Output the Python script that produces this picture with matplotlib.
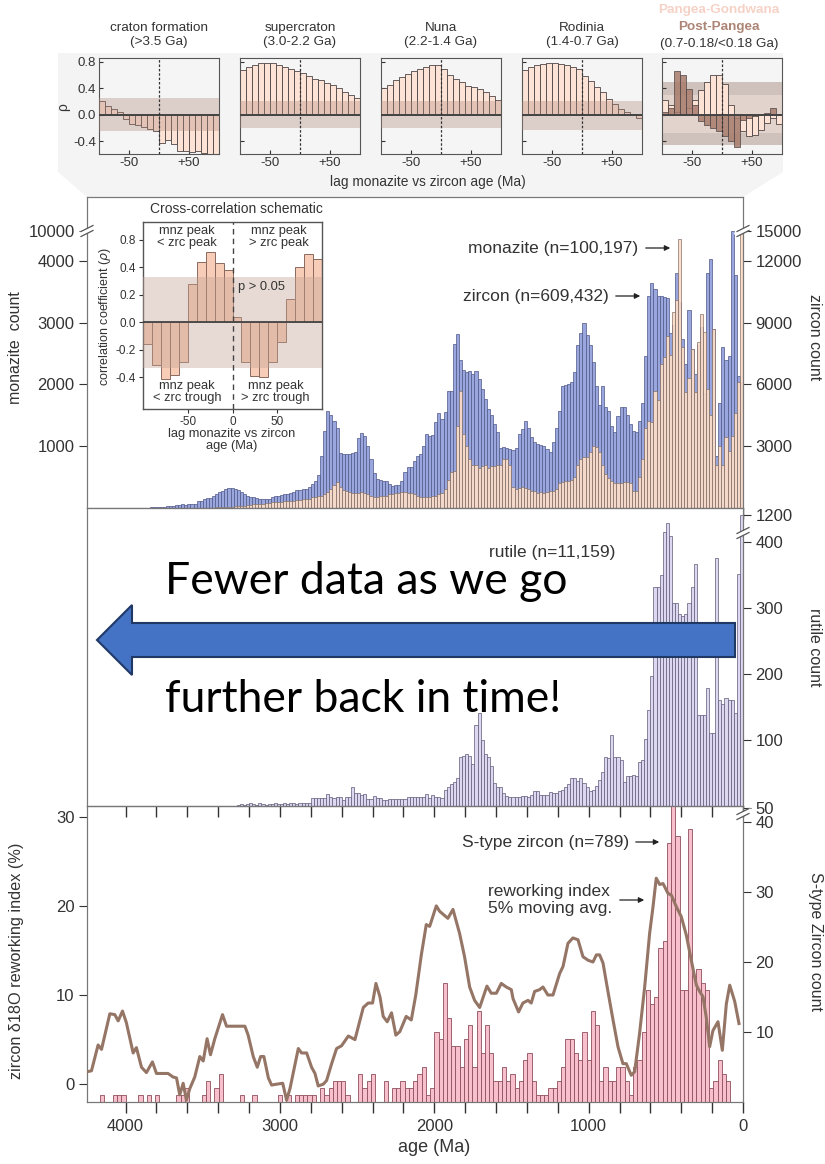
import numpy as np
import matplotlib.pyplot as plt
from matplotlib.patches import Polygon
from matplotlib.lines import Line2D

W, H = 825, 1164


def fx(px):
    return px / W


def fy(py):
    return 1 - py / H


plt.rcParams['font.family'] = ['Liberation Sans', 'DejaVu Sans']
plt.rcParams['axes.unicode_minus'] = False

# ---------------- data: lag cross-correlation panels ----------------
lag = np.arange(-95, 100, 10)
rho_craton = [0.21, 0.14, 0.09, 0.05, -0.06, -0.13, -0.15, -0.18, -0.21, -0.25,
              -0.42, -0.38, -0.44, -0.54, -0.55, -0.56, -0.54, -0.58, -0.59, -0.59]
rho_supercraton = [0.68, 0.73, 0.76, 0.78, 0.79, 0.78, 0.75, 0.72, 0.70, 0.67,
                   0.64, 0.59, 0.55, 0.53, 0.48, 0.45, 0.40, 0.35, 0.30, 0.26]
rho_nuna = [0.41, 0.45, 0.53, 0.57, 0.62, 0.67, 0.70, 0.73, 0.75, 0.75,
            0.69, 0.61, 0.55, 0.49, 0.44, 0.42, 0.39, 0.34, 0.29, 0.23]
rho_rodinia = [0.68, 0.72, 0.75, 0.77, 0.78, 0.78, 0.77, 0.75, 0.72, 0.70,
               0.59, 0.51, 0.42, 0.34, 0.24, 0.17, 0.09, 0.04, 0.01, -0.04]
rho_pangea = [0.23, 0.15, 0.05, 0.02, 0.10, 0.23, 0.37, 0.49, 0.61, 0.60,
              0.47, 0.15, -0.05, -0.25, -0.32, -0.30, -0.23, -0.12, -0.05, -0.13]
rho_postpangea = [0.05, 0.10, 0.67, 0.61, 0.39, 0.15, -0.09, -0.15, -0.19, -0.24,
                  -0.32, -0.39, -0.49, -0.08, -0.05, -0.02, 0.0, 0.03, 0.10, 0.0]
sig_bands = [(-0.24, 0.26), (-0.19, 0.21), (-0.20, 0.21), (-0.22, 0.21)]
panel_titles = ['craton formation\n(>3.5 Ga)', 'supercraton\n(3.0-2.2 Ga)',
                'Nuna\n(2.2-1.4 Ga)', 'Rodinia\n(1.4-0.7 Ga)']

# schematic inset
sch_rho = [-0.16, -0.31, -0.41, -0.38, -0.29, 0.28, 0.44, 0.51, 0.43, 0.38,
           0.04, -0.29, -0.39, -0.40, -0.29, -0.14, 0.17, 0.40, 0.50, 0.46]

# ---------------- data: age histograms (20 Ma bins, youngest first) ----------------
zircon = [6100, 6400, 11300, 15100, 7400, 7200, 7800, 5100, 2500, 8700,
          12100, 11400, 5600, 8800, 7900, 6500, 7700, 9600, 7000, 8200,
          10000, 11400, 8900, 8500, 10200, 10250, 10300, 10300, 10650, 10900,
          10300, 7400, 5100, 4200, 3700, 3750, 4100, 4500, 4900, 4900,
          4450, 3700, 4000, 4700, 4900, 5900, 5000, 5900, 7100, 7900,
          8400, 9000, 8500, 7900, 6600, 6100, 6000, 5950, 5900, 4700,
          3900, 3200, 2700, 2870, 3000, 3060, 3110, 3190, 3430, 3900,
          4200, 3840, 3600, 2900, 2800, 2870, 2900, 2950, 2900, 3680,
          4080, 4490, 4810, 5300, 5780, 6270, 6630, 6510, 6670, 6600,
          6700, 7200, 8460, 7970, 5700, 5700, 4650, 4330, 4620, 4160,
          3550, 3500, 3600, 3030, 2620, 2540, 2300, 2000, 2000, 1730,
          1300, 1100, 1100, 1080, 1150, 1300, 1320, 1350, 1400, 1720,
          2400, 3010, 3500, 3650, 3410, 2700, 2690, 2600, 2610, 2620,
          2690, 3900, 4220, 4500, 4700, 3740, 2500, 1600, 1300, 1160,
          1000, 920, 900, 885, 860, 790, 750, 700, 680, 640,
          600, 560, 515, 450, 435, 440, 460, 500, 515, 520,
          560, 680, 780, 880, 920, 950, 950, 900, 840, 760,
          680, 600, 480, 470, 420, 350, 350, 200, 180, 170,
          160, 170, 150, 160, 120, 80, 80, 60, 40, 40,
          30, 30, 20, 20, 15, 15, 10, 10, 10, 8,
          8, 6, 6, 5, 5, 4, 4, 3, 3, 2, 2, 2]

monazite = [10100, 2040, 1540, 1170, 930, 1150, 690, 1010, 700, 2900,
            1500, 1930, 2850, 3140, 2680, 1870, 2580, 2100, 1870, 2600,
            4360, 3360, 3170, 2470, 2790, 2440, 2330, 1740, 1900, 1390,
            1400, 1300, 800, 500, 280, 280, 400, 420, 420, 400,
            400, 400, 430, 480, 550, 700, 900, 980, 1000, 900,
            820, 820, 800, 700, 500, 450, 430, 430, 420, 400,
            300, 280, 270, 260, 250, 260, 250, 270, 280, 300,
            330, 335, 330, 300, 335, 700, 790, 790, 700, 700,
            680, 680, 650, 700, 680, 650, 700, 690, 800, 1000,
            1200, 1900, 1330, 600, 580, 450, 300, 250, 220, 200,
            200, 180, 170, 170, 180, 200, 220, 240, 250, 260,
            260, 250, 240, 230, 220, 200, 200, 190, 180, 180,
            200, 220, 240, 260, 250, 240, 250, 260, 270, 290,
            340, 420, 380, 300, 260, 220, 200, 190, 180, 170,
            150, 140, 140, 130, 130, 120, 120, 110, 110, 100,
            100, 90, 90, 80, 80, 70, 70, 60, 60, 50,
            50, 40, 40, 30, 30, 20, 20, 15, 15, 10,
            10, 8, 8, 6, 6, 5, 5, 4, 4, 3,
            0, 0, 0, 0, 0, 0, 0, 0, 0, 0,
            0, 0, 0, 0, 0, 0, 0, 0, 0, 0,
            0, 0, 0, 0, 0, 0, 0, 0, 0, 0, 0, 0]

rutile = [1200, 351, 140, 160, 160, 163, 155, 160, 375, 111,
          111, 178, 138, 138, 138, 366, 331, 307, 290, 287,
          290, 307, 307, 408, 750, 415, 350, 331, 331, 197,
          146, 101, 69, 66, 45, 47, 45, 45, 37, 70,
          74, 74, 107, 72, 74, 52, 39, 30, 24, 22,
          28, 35, 42, 38, 43, 43, 34, 28, 24, 23,
          19, 19, 21, 16, 17, 17, 22, 22, 17, 13,
          15, 15, 13, 13, 13, 13, 15, 19, 28, 28,
          35, 60, 74, 78, 100, 140, 122, 64, 75, 78,
          75, 74, 42, 36, 33, 29, 24, 12, 14, 14,
          17, 12, 18, 14, 14, 14, 14, 13, 13, 11,
          11, 11, 11, 11, 10, 9, 9, 12, 12, 15,
          10, 10, 18, 17, 19, 19, 28, 13, 13, 9,
          14, 14, 12, 14, 18, 12, 12, 12, 12, 12,
          4, 5, 4, 4, 3, 5, 4, 3, 4, 3,
          3, 4, 3, 3, 2, 3, 4, 2, 3, 4,
          3, 2, 3, 2, 0, 0, 0, 0, 0, 0,
          0, 0, 0, 0, 0, 0, 0, 0, 0, 0,
          0, 0, 0, 0, 0, 0, 0, 0, 0, 0,
          0, 0, 0, 0, 0, 0, 0, 0, 0, 0,
          0, 0, 0, 0, 0, 0, 0, 0, 0, 0, 0, 0]

# S-type zircon counts (bins of 4000/146 Ma, youngest first)
stype = [0, 0, 0, 3, 4, 6, 3, 2, 16, 17,
         19, 18, 39, 16, 16, 38, 55, 37, 23, 22,
         15, 14, 16, 10, 6, 5, 1, 3, 5, 5,
         3, 3, 5, 3, 11, 13, 6, 10, 6, 7,
         9, 9, 5, 3, 2, 2, 1, 1, 1, 3,
         7, 6, 3, 2, 4, 3, 5, 3, 3, 7,
         11, 7, 13, 5, 11, 9, 5, 8, 8, 12,
         17, 9, 10, 2, 1, 5, 4, 3, 2, 2,
         3, 2, 2, 0, 3, 0, 0, 4, 3, 2,
         4, 0, 0, 1, 3, 3, 3, 2, 1, 2,
         0, 1, 1, 1, 1, 1, 0, 1, 0, 1,
         0, 0, 0, 0, 0, 1, 0, 0, 1, 0,
         0, 0, 0, 4, 2, 0, 3, 1, 0, 0,
         0, 2, 1, 1, 0, 0, 0, 0, 1, 0,
         1, 0, 1, 0, 0, 0, 1, 1, 1, 0,
         0, 1, 0, 0, 0]

# zircon d18O reworking index, 5% moving average
rw_age = [4249, 4221, 4178, 4156, 4102, 4070, 4048, 4020, 3995, 3951,
          3930, 3897, 3865, 3826, 3800, 3757, 3725, 3692, 3670, 3649,
          3627, 3606, 3584, 3552, 3519, 3497, 3472, 3450, 3422, 3372,
          3346, 3303, 3227, 3206, 3173, 3147, 3125, 3104, 3075, 3054,
          3021, 2982, 2957, 2935, 2881, 2860, 2827, 2795, 2773, 2752,
          2719, 2698, 2665, 2633, 2601, 2557, 2514, 2493, 2460, 2428,
          2400, 2378, 2352, 2331, 2305, 2277, 2249, 2223, 2182, 2149,
          2120, 2084, 2052, 2030, 1987, 1966, 1912, 1879, 1836, 1804,
          1771, 1739, 1706, 1659, 1631, 1598, 1566, 1534, 1501, 1490,
          1454, 1426, 1393, 1372, 1350, 1318, 1296, 1264, 1231, 1188,
          1166, 1134, 1102, 1069, 1037, 1004, 972, 950, 929, 907,
          875, 842, 810, 778, 756, 724, 702, 670, 637, 605,
          583, 562, 540, 518, 486, 464, 432, 400, 367, 335,
          302, 281, 259, 238, 216, 195, 162, 134, 108, 86,
          54, 26]
rw_val = [1.4, 1.5, 4.4, 3.9, 7.9, 7.8, 7.1, 8.2, 6.9, 3.5,
          4.1, 1.9, 1.3, 2.5, 1.2, 1.2, 1.2, 0.8, 0.7, -1.2,
          0.1, -1.8, -0.5, 0.8, 3.1, 2.6, 5.1, 3.3, 5.1, 7.8,
          6.5, 6.5, 6.5, 5.5, 3.1, 1.9, 3.1, 3.1, 0.7, -0.1,
          0.0, 0.1, -1.8, -0.5, 4.0, 3.5, 3.5, 1.9, 1.2, -0.2,
          0.0, 0.4, 2.3, 4.0, 4.3, 5.4, 5.0, 6.4, 8.6, 9.1,
          9.1, 11.3, 9.8, 7.6, 7.0, 8.0, 5.5, 5.9, 7.6, 7.2,
          10.0, 14.5, 17.9, 17.7, 20.0, 19.4, 18.6, 19.6, 16.9, 14.3,
          10.9, 9.4, 8.6, 11.0, 10.2, 10.2, 11.3, 10.9, 10.6, 9.6,
          8.1, 9.1, 9.4, 9.1, 10.4, 10.6, 10.9, 10.0, 10.0, 12.4,
          13.2, 15.8, 16.4, 16.2, 14.3, 13.9, 13.7, 14.5, 14.5, 13.6,
          10.4, 7.2, 4.2, 2.3, 2.3, 1.0, 1.4, 5.7, 10.9, 16.9,
          19.9, 23.1, 22.4, 22.5, 21.4, 21.2, 19.9, 18.8, 16.7, 13.9,
          11.1, 10.4, 9.8, 7.5, 4.2, 6.0, 7.0, 3.8, 9.0, 11.1,
          9.3, 6.8]

bin_w = 20
ages = np.arange(len(zircon)) * bin_w
st_w = 4000 / 146
st_ages = np.arange(len(stype)) * st_w

# squeeze values above the axis breaks into the small band at the top
zpos = [z / 3 if z < 13500 else 4484 + (z - 15000) / 300 for z in zircon]
mpos = [m if m < 5000 else 4484 + (m - 10000) / 100 for m in monazite]
rpos = [r if r <= 420 else 420 + 21 * (r - 420) / 780 for r in rutile]

fig = plt.figure(figsize=(W / 100, H / 100), dpi=100)

# grey callout behind the lag panels
callout = Polygon([(fx(58), fy(53)), (fx(783), fy(53)), (fx(783), fy(172)),
                   (fx(743), fy(197)), (fx(87), fy(197)), (fx(58), fy(172))],
                  closed=True, transform=fig.transFigure, facecolor='#f4f4f4',
                  edgecolor='none', zorder=-1)
fig.add_artist(callout)

# ---------------- small lag panels ----------------
panel_x = [99, 240, 381, 522, 662]
all_rho = [rho_craton, rho_supercraton, rho_nuna, rho_rodinia]
for k, px in enumerate(panel_x):
    ax = fig.add_axes([fx(px), fy(154), 120 / W, 96 / H])
    ax.set_facecolor('#f5f5f5')
    if k < 4:
        ax.bar(lag, all_rho[k], width=10, color='#fde3d6', edgecolor='#4d4545',
               linewidth=0.6, zorder=2)
        lo, hi = sig_bands[k]
        ax.axhspan(lo, hi, color='#b08878', alpha=0.35, lw=0, zorder=3)
        fig.text(fx(px + 60), fy(35), panel_titles[k], ha='center', va='center',
                 fontsize=9.7, color='#333', linespacing=1.15)
    else:
        ax.axhspan(-0.45, 0.49, color='#cfc1bb', lw=0, zorder=1)
        ax.axhspan(-0.27, 0.30, color='#e2d3cd', lw=0, zorder=1.1)
        ax.bar(lag, rho_pangea, width=10, color='#fde3d6', edgecolor='#4d4545',
               linewidth=0.6, zorder=2)
        ax.bar(lag, rho_postpangea, width=10, color='#a87c6c', edgecolor='#4d4545',
               linewidth=0.6, alpha=0.85, zorder=2.5)
        fig.text(fx(px + 57), fy(10), 'Pangea-Gondwana', ha='center', va='center',
                 fontsize=9.7, color='#f6d2c6', fontweight='bold')
        fig.text(fx(px + 57), fy(27), 'Post-Pangea', ha='center', va='center',
                 fontsize=9.7, color='#ad8576', fontweight='bold')
        fig.text(fx(px + 57), fy(44), '(0.7-0.18/<0.18 Ga)', ha='center',
                 va='center', fontsize=9.7, color='#333')
    ax.axhline(0, color='#444', lw=1.4, zorder=4)
    ax.axvline(0, color='#333', lw=0.9, ls=(0, (2, 1.5)), zorder=4)
    ax.set_xlim(-100, 100)
    ax.set_ylim(-0.59, 0.86)
    ax.set_xticks([-50, 50])
    ax.set_xticklabels(['-50', '+50'])
    ax.set_yticks([-0.4, 0.0, 0.4, 0.8])
    ax.tick_params(direction='in', length=3, labelsize=9.5, colors='#333', pad=2)
    if k == 0:
        ax.set_yticklabels(['-0.4', '0.0', '0.4', '0.8'])
    else:
        ax.tick_params(labelleft=False)
    for s in ax.spines.values():
        s.set_color('#555')
        s.set_linewidth(0.8)

fig.text(fx(63), fy(107), 'ρ', rotation=90, ha='center', va='center',
         fontsize=10, color='#333')
fig.text(fx(428), fy(182), 'lag monazite vs zircon age (Ma)', ha='center',
         va='center', fontsize=9.9, color='#333')

# ---------------- main stacked panels ----------------
ax1 = fig.add_axes([fx(87), fy(508), 656 / W, 311 / H])
ax2 = fig.add_axes([fx(87), fy(806), 656 / W, 298 / H])
ax3 = fig.add_axes([fx(87), fy(1102), 656 / W, 296 / H])

ax1.bar(ages, zpos, width=bin_w, align='edge', color='#9aa7de',
        edgecolor='#4f5786', linewidth=0.5)
ax1.bar(ages, mpos, width=bin_w, align='edge', color='#fcdcc9',
        edgecolor='#7d6a60', linewidth=0.5, alpha=0.93)
ax1.set_ylim(0, 5032)
ax1.set_yticks([1000, 2000, 3000, 4000, 4484])
ax1.set_yticklabels(['1000', '2000', '3000', '4000', '10000'])
ax1r = ax1.twinx()
ax1r.set_ylim(0, 5032)
ax1r.set_yticks([1000, 2000, 3000, 4000, 4484])
ax1r.set_yticklabels(['3000', '6000', '9000', '12000', '15000'])

ax2.bar(ages, rpos, width=bin_w, align='edge', color='#ddd7f0',
        edgecolor='#5f5a78', linewidth=0.5)
ax2.set_ylim(0, 451)
ax2.set_yticks([])
ax2r = ax2.twinx()
ax2r.set_ylim(0, 451)
ax2r.set_yticks([100, 200, 300, 400, 441])
ax2r.set_yticklabels(['100', '200', '300', '400', '1200'])

ax3r = ax3.twinx()
ax3r.bar(st_ages, stype, width=st_w, align='edge', color='#f8c0cc',
         edgecolor='#8e4f5c', linewidth=0.6)
ax3r.set_ylim(0, 42.3)
ax3r.set_yticks([10, 20, 30, 40, 42.0])
ax3r.set_yticklabels(['10', '20', '30', '40', '50'])
ax3.plot(rw_age, rw_val, color='#957565', lw=2.2, zorder=3)
ax3.set_ylim(-2.0, 31.2)
ax3.set_yticks([0, 10, 20, 30])
ax3.set_zorder(ax3r.get_zorder() + 1)
ax3.patch.set_visible(False)

xt = np.arange(0, 4001, 200)
for ax in (ax1, ax2, ax3, ax1r, ax2r, ax3r):
    ax.set_xlim(4250, 0)
    for s in ax.spines.values():
        s.set_color('#777')
    ax.tick_params(axis='y', direction='out', length=6, labelsize=12,
                   colors='#333', pad=3)
for ax in (ax1, ax2, ax3):
    ax.set_xticks(xt)
    ax.tick_params(axis='x', direction='out', length=8, width=1, labelsize=12,
                   colors='#333', pad=4)
ax1.tick_params(axis='x', labelbottom=False)
ax2.tick_params(axis='x', labelbottom=False)
ax3.set_xticklabels([str(t) if t % 1000 == 0 else '' for t in xt])


def axis_break(x, y):
    # small double slash crossing a spine, in figure pixels
    fig.add_artist(Line2D([fx(x - 6), fx(x + 6)], [fy(y + 1), fy(y - 5)],
                          color='white', lw=3.5, zorder=9))
    for dy in (-2.5, 2.5):
        fig.add_artist(Line2D([fx(x - 6), fx(x + 6)], [fy(y + 1 + dy), fy(y - 5 + dy)],
                              color='#555', lw=0.9, zorder=10))


axis_break(87, 233)
axis_break(743, 233)
axis_break(743, 535)
axis_break(743, 816)

# ---------------- schematic inset ----------------
axi = fig.add_axes([fx(143), fy(409), 179 / W, 187 / H])
axi.set_facecolor('white')
axi.bar(lag, sch_rho, width=10, color='#f8cdb8', edgecolor='#8a6a5e',
        linewidth=0.7, zorder=2)
axi.axhspan(-0.33, 0.33, color='#c4a494', alpha=0.4, lw=0, zorder=3)
axi.axhline(0, color='#444', lw=1.3, zorder=4)
axi.axvline(0, color='#444', lw=1.0, ls=(0, (4, 3)), zorder=4)
axi.set_xlim(-100, 100)
axi.set_ylim(-0.63, 0.73)
axi.set_xticks([-50, 0, 50])
axi.set_yticks([-0.4, -0.2, 0.0, 0.2, 0.4, 0.6])
axi.set_yticklabels(['-0.4', '-0.2', '0.0', '0.2', '0.4', '0.8'])
axi.tick_params(direction='out', length=3, labelsize=8.5, colors='#333', pad=2)
for s in axi.spines.values():
    s.set_color('#555')
    s.set_linewidth(1.0)
txt = dict(ha='center', va='center', fontsize=9.3, color='#333', linespacing=1.0, zorder=5)
axi.text(-51, 0.62, 'mnz peak\n< zrc peak', **txt)
axi.text(52, 0.62, 'mnz peak\n> zrc peak', **txt)
axi.text(-51, -0.51, 'mnz peak\n< zrc trough', **txt)
axi.text(48, -0.51, 'mnz peak\n> zrc trough', **txt)
axi.text(6, 0.26, 'p > 0.05', ha='left', va='center', fontsize=9.3, color='#333', zorder=5)
fig.text(fx(236), fy(209), 'Cross-correlation schematic', ha='center',
         va='center', fontsize=10, color='#333')
fig.text(fx(105), fy(316), 'correlation coefficient ($\\rho$)', rotation=90,
         ha='center', va='center', fontsize=9, color='#333')
fig.text(fx(232), fy(440), 'lag monazite vs zircon\nage (Ma)', ha='center',
         va='center', fontsize=9.3, color='#333', linespacing=1.1)

# ---------------- annotations ----------------
arrow = dict(arrowstyle='-|>', color='#222', lw=0.9, mutation_scale=8)


def label_arrow(text, x_end, y, x0, x1, ha='right'):
    fig.text(fx(x_end), fy(y), text, ha=ha, va='center', fontsize=12.5, color='#333')
    ax1.annotate('', xy=(fx(x1), fy(y)), xytext=(fx(x0), fy(y)),
                 xycoords='figure fraction', textcoords='figure fraction',
                 arrowprops=arrow, annotation_clip=False)


label_arrow('monazite (n=100,197)', 638, 248, 643, 673)
label_arrow('zircon (n=609,432)', 609, 296, 613, 643)
label_arrow('rutile (n=11,159)', 615, 553, 625, 655)
label_arrow('S-type zircon (n=789)', 629, 842, 633, 662)
fig.text(fx(488), fy(900), 'reworking index\n5% moving avg.', ha='left',
         va='center', fontsize=12.5, color='#333', linespacing=1.2)
ax1.annotate('', xy=(fx(647), fy(900)), xytext=(fx(617), fy(900)),
             xycoords='figure fraction', textcoords='figure fraction',
             arrowprops=arrow, annotation_clip=False)

# axis titles
fig.text(fx(16), fy(348), 'monazite  count', rotation=90, ha='center',
         va='center', fontsize=11.5, color='#333')
fig.text(fx(815), fy(337), 'zircon count', rotation=270, ha='center',
         va='center', fontsize=11.5, color='#333')
fig.text(fx(815), fy(647), 'rutile count', rotation=270, ha='center',
         va='center', fontsize=11.5, color='#333')
fig.text(fx(815), fy(942), 'S-type Zircon count', rotation=270, ha='center',
         va='center', fontsize=11.5, color='#333')
fig.text(fx(17), fy(961), 'zircon δ18O reworking index (%)', rotation=90,
         ha='center', va='center', fontsize=11.7, color='#333')
fig.text(fx(434), fy(1147), 'age (Ma)', ha='center', va='center',
         fontsize=13, color='#333')

# ---------------- overlay: big arrow and message ----------------
big_arrow = Polygon([(fx(735), fy(623)), (fx(132), fy(623)), (fx(132), fy(605)),
                     (fx(97), fy(640)), (fx(132), fy(675)), (fx(132), fy(657)),
                     (fx(735), fy(657))], closed=True, transform=fig.transFigure,
                    facecolor='#4472c4', edgecolor='#1f3864', lw=1.5, zorder=20)
fig.add_artist(big_arrow)
fig.text(fx(165), fy(582), 'Fewer data as we go', ha='left', va='center',
         fontsize=32, family=['Lato', 'DejaVu Sans'], color='black', zorder=21)
fig.text(fx(165), fy(700), 'further back in time!', ha='left', va='center',
         fontsize=32, family=['Lato', 'DejaVu Sans'], color='black', zorder=21)

fig.savefig('out.png', dpi=100, facecolor='white')
